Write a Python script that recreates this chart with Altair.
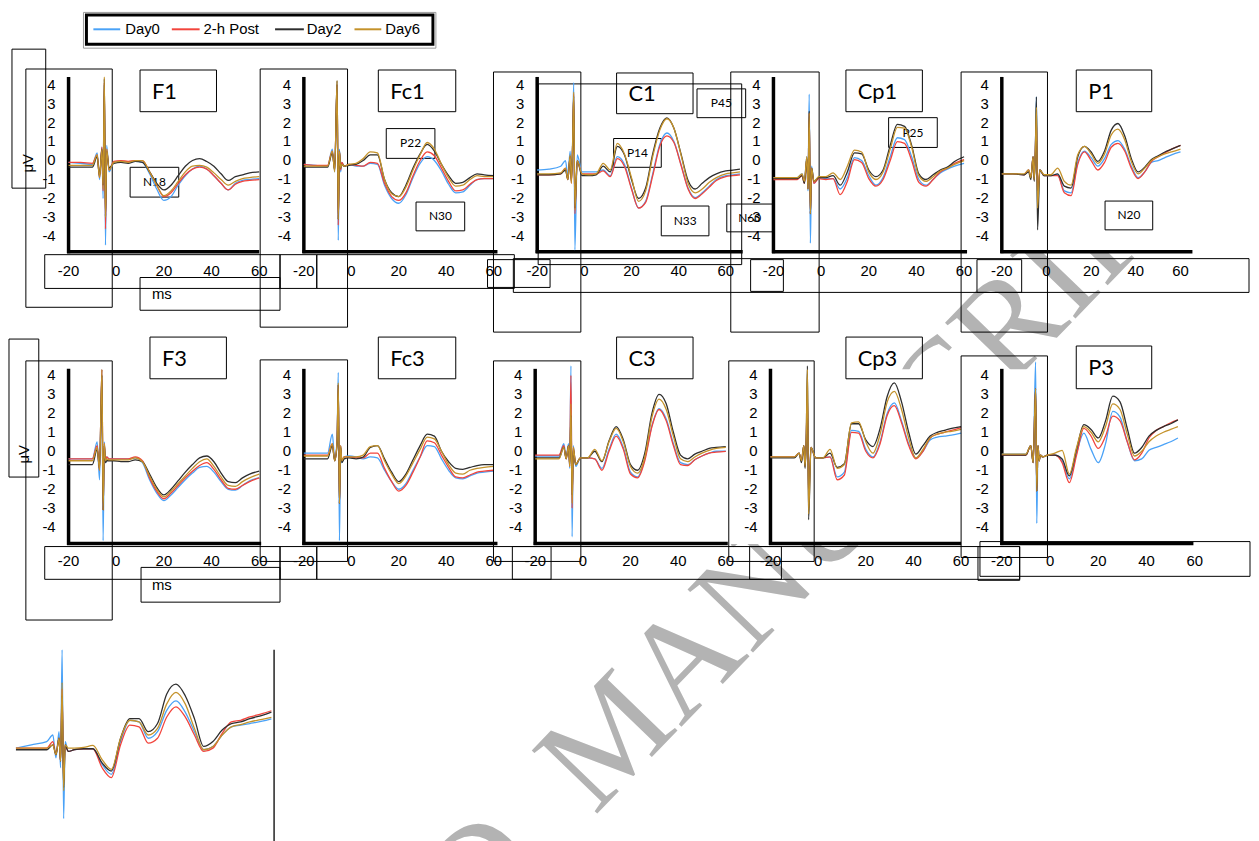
import altair as alt
import pandas as pd

# ---------------- data ----------------
T = [-20, -15, -10, -8, -7, -6, -5.5, -5, -4.5, -4, -3, -1, 2, 5, 8, 11, 14, 17, 20, 23,
     26, 29, 32, 35, 38, 41, 44, 47, 50, 53, 56, 60, 63, 66]
SERIES = ["Day0", "2-h Post", "Day2", "Day6"]
COLORS = ["#4aa2f7", "#f2443c", "#2e2e2e", "#c4922a"]
Y_TICKS = [-4, -3, -2, -1, 0, 1, 2, 3, 4]
X_TICKS = [-20, 0, 20, 40, 60]
Y_LABEL = "μV"
X_LABEL = "ms"
WATERMARK = "D\u00a0 MANUSCRIP"

F1_DAY0 = [-0.1, -0.15, -0.2, 0.4, -1.0, 0.7, -2.0, 4.0, -4.45, 0.8, -0.6, -0.1, -0.05, -0.1, -0.05, -0.1, -0.7, -1.5, -2.1, -1.9, -1.3, -0.8, -0.45, -0.3, -0.45, -0.8, -1.2, -1.55, -1.2, -1.05, -1.0, -0.95]
F1_POST = [-0.1, -0.1, -0.15, 0.3, -0.9, 0.7, -1.6, 4.1, -3.6, 0.6, -0.5, -0.05, 0.0, -0.05, 0.0, 0.0, -0.6, -1.3, -1.9, -1.7, -1.2, -0.75, -0.45, -0.35, -0.45, -0.8, -1.2, -1.55, -1.25, -1.1, -1.05, -1.0]
F1_DAY2 = [-0.35, -0.35, -0.35, 0.2, -0.8, 0.6, -1.3, 4.3, -2.9, 0.5, -0.4, -0.15, -0.1, -0.15, -0.05, -0.1, -0.6, -1.2, -1.55, -1.3, -0.8, -0.3, 0.0, 0.1, -0.05, -0.3, -0.7, -1.05, -0.85, -0.75, -0.65, -0.6]
F1_DAY6 = [-0.25, -0.25, -0.25, 0.3, -0.9, 0.6, -1.5, 4.4, -3.0, 0.6, -0.5, -0.1, -0.05, -0.1, 0.0, 0.0, -0.6, -1.3, -1.85, -1.6, -1.1, -0.6, -0.3, -0.25, -0.35, -0.65, -1.0, -1.3, -1.1, -0.95, -0.9, -0.85]

FC1_DAY0 = [-0.2, -0.25, -0.3, 0.6, -0.6, 4.0, -4.2, 0.6, -0.6, -0.1, -0.3, -0.2, -0.3, -0.3, -0.15, -0.2, -1.3, -2.0, -2.25, -1.8, -0.9, -0.15, 0.2, 0.0, -0.55, -1.25, -1.7, -1.65, -1.3, -1.0, -0.95, -0.95]
FC1_POST = [-0.2, -0.25, -0.25, 0.5, -0.5, 4.0, -3.4, 0.5, -0.5, -0.1, -0.3, -0.2, -0.25, -0.3, -0.1, -0.15, -1.2, -1.9, -2.1, -1.7, -0.8, 0.0, 0.45, 0.25, -0.4, -1.1, -1.6, -1.55, -1.25, -1.0, -0.95, -0.95]
FC1_DAY2 = [-0.35, -0.35, -0.35, 0.4, -0.5, 4.2, -3.1, 0.5, -0.4, -0.2, -0.3, -0.25, -0.2, 0.0, 0.3, 0.3, -1.0, -1.7, -1.9, -1.3, -0.4, 0.35, 0.85, 0.5, -0.2, -0.8, -1.2, -1.15, -0.9, -0.7, -0.75, -0.8]
FC1_DAY6 = [-0.3, -0.3, -0.3, 0.5, -0.6, 4.2, -3.1, 0.5, -0.4, -0.2, -0.3, -0.2, -0.15, 0.1, 0.45, 0.4, -1.0, -1.75, -1.9, -1.4, -0.5, 0.3, 0.95, 0.6, -0.2, -0.9, -1.35, -1.3, -1.0, -0.8, -0.85, -0.85]

C1_DAY0 = [-0.5, -0.45, -0.3, 0.0, -0.8, 0.5, -1.0, 0.8, 4.1, -4.7, 0.3, -0.6, -0.6, -0.6, -0.5, -0.8, 0.2, -0.2, -1.45, -2.5, -2.15, -0.7, 0.85, 1.45, 1.0, -0.2, -1.45, -1.95, -1.7, -1.35, -1.0, -0.8, -0.75, -0.7]
C1_POST = [-0.75, -0.75, -0.7, -0.4, -1.0, 0.2, -1.2, 0.6, 3.5, -2.8, 0.0, -0.7, -0.7, -0.7, -0.55, -0.85, 0.1, -0.3, -1.5, -2.5, -2.2, -0.8, 0.75, 1.3, 0.95, -0.25, -1.5, -2.0, -1.75, -1.4, -1.05, -0.85, -0.8, -0.75]
C1_DAY2 = [-0.75, -0.75, -0.7, -0.5, -1.0, 0.2, -1.1, 0.6, 3.4, -2.5, 0.0, -0.8, -0.8, -0.75, -0.3, -0.6, 0.75, 0.3, -1.0, -2.0, -1.45, 0.35, 1.7, 2.25, 1.7, 0.35, -1.05, -1.5, -1.2, -0.9, -0.7, -0.55, -0.5, -0.45]
C1_DAY6 = [-0.7, -0.7, -0.65, -0.4, -1.0, 0.3, -1.2, 0.7, 3.6, -2.6, 0.0, -0.7, -0.75, -0.7, -0.15, -0.5, 0.9, 0.35, -0.9, -2.15, -1.6, 0.2, 1.6, 2.2, 1.7, 0.3, -1.2, -1.7, -1.5, -1.15, -0.9, -0.7, -0.65, -0.6]

CP1_DAY0 = [-0.9, -0.9, -0.9, -0.7, -1.1, 0.2, -1.6, 3.5, -4.35, -0.3, -1.2, -0.9, -0.95, -0.95, -1.5, -0.9, 0.15, 0.0, -0.8, -1.3, -0.9, 0.2, 1.2, 1.1, 0.2, -1.0, -1.3, -1.0, -0.65, -0.45, -0.3, -0.15]
CP1_POST = [-1.0, -1.0, -1.0, -0.8, -1.2, 0.1, -1.5, 2.5, -2.8, -0.4, -1.2, -0.95, -1.0, -0.95, -1.8, -1.1, 0.05, -0.1, -0.95, -1.35, -1.0, 0.0, 1.0, 0.9, 0.0, -1.15, -1.35, -1.0, -0.6, -0.4, -0.15, 0.05]
CP1_DAY2 = [-0.95, -0.95, -0.95, -0.8, -1.2, 0.1, -1.5, 2.6, -2.8, -0.4, -1.1, -0.9, -0.9, -0.8, -1.3, -0.6, 0.4, 0.35, -0.5, -0.85, -0.5, 0.8, 1.9, 1.8, 0.8, -0.7, -1.0, -0.75, -0.5, -0.35, -0.05, 0.2]
CP1_DAY6 = [-0.9, -0.9, -0.9, -0.7, -1.1, 0.2, -1.5, 2.5, -2.8, -0.4, -1.1, -0.85, -0.85, -0.65, -1.0, -0.3, 0.55, 0.45, -0.6, -1.0, -0.6, 0.6, 1.75, 1.7, 0.7, -0.8, -1.1, -0.85, -0.55, -0.4, -0.2, 0.0]

P1_DAY0 = [-0.7, -0.7, -0.75, -0.5, -0.9, 0.2, -1.0, 0.5, 3.35, -2.8, -0.5, -0.8, -0.8, -0.75, -1.6, -1.7, -0.1, 0.5, 0.15, -0.3, 0.1, 0.85, 1.05, 0.6, -0.3, -0.9, -0.6, -0.1, 0.0, 0.15, 0.3, 0.45]
P1_POST = [-0.7, -0.7, -0.75, -0.5, -0.9, 0.2, -1.0, 0.5, 2.2, -1.9, -0.5, -0.8, -0.8, -0.8, -1.7, -1.85, -0.2, 0.45, 0.0, -0.5, -0.1, 0.7, 0.9, 0.5, -0.4, -0.95, -0.6, -0.05, 0.2, 0.4, 0.6, 0.8]
P1_DAY2 = [-0.7, -0.7, -0.75, -0.6, -1.0, 0.2, -1.1, 0.4, 3.35, -3.65, -0.5, -0.8, -0.8, -0.7, -1.35, -1.45, 0.2, 0.75, 0.45, -0.05, 0.5, 1.6, 1.95, 1.3, 0.1, -0.6, -0.35, 0.05, 0.25, 0.45, 0.6, 0.8]
P1_DAY6 = [-0.7, -0.7, -0.7, -0.5, -0.9, 0.2, -1.0, 0.5, 2.8, -2.5, -0.5, -0.75, -0.75, -0.4, -1.1, -1.3, 0.3, 0.75, 0.35, -0.15, 0.35, 1.35, 1.65, 1.1, -0.05, -0.7, -0.4, 0.0, 0.2, 0.35, 0.45, 0.6]

F3_DAY0 = [-0.4, -0.4, -0.4, 0.5, -1.5, 4.3, -4.7, 0.5, -0.6, -0.3, -0.4, -0.4, -0.4, -0.4, -0.35, -0.6, -1.5, -2.2, -2.6, -2.3, -1.9, -1.5, -1.15, -0.85, -0.8, -1.1, -1.6, -2.0, -2.05, -1.8, -1.55, -1.4]
F3_POST = [-0.4, -0.4, -0.4, 0.3, -1.0, 4.3, -3.1, 0.4, -0.5, -0.3, -0.4, -0.4, -0.4, -0.4, -0.3, -0.5, -1.4, -2.1, -2.5, -2.2, -1.8, -1.4, -1.05, -0.75, -0.6, -0.95, -1.5, -1.95, -2.0, -1.8, -1.6, -1.4]
F3_DAY2 = [-0.7, -0.7, -0.7, 0.1, -0.9, 4.0, -3.1, 0.3, -0.6, -0.5, -0.5, -0.5, -0.55, -0.55, -0.45, -0.55, -1.2, -1.9, -2.3, -2.0, -1.55, -1.1, -0.7, -0.35, -0.25, -0.55, -1.15, -1.6, -1.65, -1.4, -1.2, -1.05]
F3_DAY6 = [-0.5, -0.5, -0.5, 0.2, -1.0, 4.3, -3.1, 0.4, -0.5, -0.4, -0.45, -0.45, -0.45, -0.45, -0.35, -0.55, -1.3, -2.0, -2.4, -2.1, -1.7, -1.3, -0.9, -0.55, -0.4, -0.8, -1.35, -1.8, -1.85, -1.6, -1.4, -1.2]

FC3_DAY0 = [-0.1, -0.1, -0.1, 0.9, -0.4, 0.6, 4.15, -4.7, 0.3, -0.6, -0.3, -0.25, -0.3, -0.4, -0.3, -0.35, -1.0, -1.6, -2.0, -1.7, -1.0, -0.3, 0.3, 0.25, -0.4, -1.0, -1.4, -1.45, -1.3, -1.15, -1.1, -1.05]
FC3_POST = [-0.2, -0.2, -0.2, 0.4, -0.5, 0.5, 3.5, -2.75, 0.3, -0.5, -0.3, -0.3, -0.35, -0.35, -0.1, -0.1, -0.9, -1.6, -2.1, -1.8, -1.1, -0.3, 0.55, 0.45, -0.2, -0.85, -1.35, -1.4, -1.25, -1.1, -1.05, -1.0]
FC3_DAY2 = [-0.4, -0.4, -0.4, 0.3, -0.5, 0.4, 3.5, -2.75, 0.2, -0.6, -0.4, -0.35, -0.4, -0.3, 0.2, 0.3, -0.4, -1.1, -1.6, -1.2, -0.45, 0.3, 0.9, 0.8, 0.0, -0.55, -0.9, -0.95, -0.85, -0.75, -0.7, -0.7]
FC3_DAY6 = [-0.25, -0.25, -0.25, 0.4, -0.5, 0.5, 3.6, -2.75, 0.3, -0.5, -0.3, -0.3, -0.3, -0.2, 0.25, 0.3, -0.5, -1.2, -1.7, -1.3, -0.6, 0.1, 0.75, 0.65, 0.0, -0.7, -1.15, -1.2, -1.0, -0.9, -0.85, -0.8]

C3_DAY0 = [-0.25, -0.25, -0.25, 0.4, -0.3, 0.4, -0.9, 4.5, -4.5, 0.3, -0.8, -0.35, -0.35, -0.4, -0.9, 0.1, 0.9, 0.2, -1.1, -1.35, -0.4, 1.35, 2.25, 1.7, 0.4, -0.6, -0.7, -0.45, -0.25, -0.1, 0.0, 0.0]
C3_POST = [-0.2, -0.2, -0.2, 0.3, -0.4, 0.3, -0.8, 4.0, -3.0, 0.2, -0.7, -0.35, -0.35, -0.4, -1.0, 0.0, 0.8, 0.1, -1.2, -1.4, -0.5, 1.3, 2.2, 1.6, 0.3, -0.7, -0.75, -0.45, -0.25, -0.1, -0.05, 0.0]
C3_DAY2 = [-0.35, -0.35, -0.35, 0.2, -0.4, 0.3, -0.7, 1.9, -2.3, 0.1, -0.7, -0.35, -0.35, 0.0, -0.55, 0.55, 1.3, 0.6, -0.7, -1.0, -0.1, 2.0, 3.0, 2.5, 1.0, -0.2, -0.4, -0.15, 0.0, 0.15, 0.2, 0.25]
C3_DAY6 = [-0.4, -0.4, -0.4, 0.2, -0.4, 0.3, -0.8, 2.5, -2.75, 0.2, -0.7, -0.35, -0.35, 0.1, -0.5, 0.5, 1.2, 0.5, -0.8, -1.15, -0.3, 1.8, 2.75, 2.2, 0.8, -0.4, -0.55, -0.3, -0.1, 0.05, 0.15, 0.2]

CP3_DAY0 = [-0.3, -0.3, -0.3, -0.1, -0.5, 0.3, -0.8, 0.6, 2.5, -2.2, 0.2, -0.35, -0.35, -0.3, -1.35, -1.1, 1.1, 1.05, 0.1, -0.3, 0.5, 2.0, 2.55, 1.6, 0.4, -0.35, 0.0, 0.6, 0.75, 0.8, 0.85, 0.95]
CP3_POST = [-0.3, -0.3, -0.3, -0.1, -0.5, 0.3, -0.8, 0.6, 3.0, -2.5, 0.2, -0.35, -0.35, -0.3, -1.5, -1.25, 1.0, 0.95, 0.0, -0.35, 0.4, 1.9, 2.4, 1.5, 0.3, -0.4, 0.0, 0.7, 0.9, 1.0, 1.1, 1.25]
CP3_DAY2 = [-0.35, -0.35, -0.35, -0.1, -0.6, 0.3, -0.9, 0.6, 4.5, -3.6, 0.2, -0.35, -0.35, -0.1, -0.85, -0.65, 1.45, 1.45, 0.6, 0.25, 1.2, 2.9, 3.6, 2.6, 1.0, -0.15, 0.3, 0.8, 1.0, 1.1, 1.2, 1.3]
CP3_DAY6 = [-0.3, -0.3, -0.3, -0.1, -0.5, 0.3, -0.8, 0.6, 4.3, -3.3, 0.2, -0.35, -0.35, 0.1, -0.9, -0.7, 1.5, 1.55, 0.5, -0.1, 0.9, 2.6, 3.15, 2.2, 0.7, -0.35, 0.1, 0.7, 0.9, 1.0, 1.05, 1.15]

P3_DAY0 = [-0.15, -0.15, -0.15, 0.3, -0.6, 4.7, -3.8, 0.3, -0.5, -0.2, -0.3, -0.2, -0.2, -0.5, -1.45, -0.1, 0.95, 0.1, -0.6, 0.4, 2.1, 1.8, 0.5, -0.5, -0.4, 0.05, 0.2, 0.35, 0.5, 0.7]
P3_POST = [-0.2, -0.2, -0.2, 0.3, -0.6, 3.3, -2.1, 0.3, -0.5, -0.2, -0.3, -0.2, -0.2, -0.6, -1.65, -0.2, 1.2, 0.8, 0.15, 0.8, 1.85, 1.6, 0.5, -0.45, -0.1, 0.7, 1.1, 1.3, 1.5, 1.65]
P3_DAY2 = [-0.2, -0.2, -0.2, 0.3, -0.6, 3.3, -2.1, 0.3, -0.5, -0.2, -0.3, -0.2, -0.2, -0.4, -1.3, 0.1, 1.4, 1.15, 0.7, 1.6, 2.9, 2.6, 1.2, -0.1, 0.2, 0.8, 1.1, 1.3, 1.45, 1.65]
P3_DAY6 = [-0.15, -0.15, -0.15, 0.3, -0.6, 3.3, -2.1, 0.3, -0.5, -0.2, -0.3, -0.2, -0.1, 0.05, -1.2, 0.2, 1.3, 1.0, 0.5, 1.3, 2.5, 2.2, 0.9, -0.25, 0.0, 0.5, 0.8, 1.0, 1.15, 1.3]

EXTRA_DAY0 = [0.0, 0.1, 0.2, 0.4, -0.3, 0.5, -0.6, 3.0, -2.15, 0.2, -0.1, -0.05, -0.02, -0.02, -0.5, -0.8, 0.2, 0.85, 0.8, 0.3, 0.5, 1.15, 1.44, 1.1, 0.5, -0.05, 0.05, 0.4, 0.65, 0.7, 0.75, 0.82, 0.89]
EXTRA_POST = [0.0, 0.0, 0.0, 0.2, -0.2, 0.3, -0.4, 1.8, -1.0, 0.1, -0.1, -0.05, -0.02, -0.02, -0.6, -0.9, 0.1, 0.7, 0.65, 0.15, 0.3, 0.95, 1.26, 0.95, 0.4, -0.1, 0.0, 0.45, 0.8, 0.85, 0.95, 1.05, 1.14]
EXTRA_DAY2 = [-0.05, -0.05, -0.05, 0.1, -0.2, 0.3, -0.4, 1.6, -1.2, 0.1, -0.1, -0.05, -0.02, -0.02, -0.45, -0.7, 0.3, 0.9, 0.9, 0.5, 0.75, 1.65, 1.95, 1.6, 0.9, 0.05, 0.2, 0.55, 0.75, 0.8, 0.9, 1.0, 1.1]
EXTRA_DAY6 = [0.0, 0.0, 0.0, 0.1, -0.2, 0.3, -0.4, 2.0, -1.3, 0.1, 0.0, 0.0, 0.02, 0.08, -0.35, -0.65, 0.3, 0.85, 0.8, 0.4, 0.6, 1.35, 1.7, 1.35, 0.6, -0.05, 0.05, 0.4, 0.65, 0.72, 0.8, 0.88, 0.94]

WAVES = {
    "F1": [F1_DAY0, F1_POST, F1_DAY2, F1_DAY6],
    "Fc1": [FC1_DAY0, FC1_POST, FC1_DAY2, FC1_DAY6],
    "C1": [C1_DAY0, C1_POST, C1_DAY2, C1_DAY6],
    "Cp1": [CP1_DAY0, CP1_POST, CP1_DAY2, CP1_DAY6],
    "P1": [P1_DAY0, P1_POST, P1_DAY2, P1_DAY6],
    "F3": [F3_DAY0, F3_POST, F3_DAY2, F3_DAY6],
    "Fc3": [FC3_DAY0, FC3_POST, FC3_DAY2, FC3_DAY6],
    "C3": [C3_DAY0, C3_POST, C3_DAY2, C3_DAY6],
    "Cp3": [CP3_DAY0, CP3_POST, CP3_DAY2, CP3_DAY6],
    "P3": [P3_DAY0, P3_POST, P3_DAY2, P3_DAY6],
}
EXTRA_WAVES = [EXTRA_DAY0, EXTRA_POST, EXTRA_DAY2, EXTRA_DAY6]

# ---------------- layout / style (page pixels) ----------------
R1, R2, R3 = 73, 367, 661
H12, H3 = 176, 180
ROW_GAP = 118
SANS = "Liberation Sans"
CAL = "Lato"

LAYOUT = {
    "F1": dict(left=68, top=R1, w=237, xmax=78.75, ydom=[-4.8, 4.4], end=260, lab_y=268,
               title=(140, 66, 217, 108), ybox=(25, 65, 112, 305),
               boxes=[(44, 252, 281, 286), (140, 275, 281, 308), (11, 45, 45, 185)],
               peaks=[("N18", (130, 164, 179, 194))]),
    "Fc1": dict(left=305, top=R1, w=235, xmax=78.33, ydom=[-4.8, 4.4], end=500, lab_y=268,
                title=(380, 66, 458, 108), ybox=(261, 65, 349, 325),
                boxes=[(281, 252, 318, 286), (318, 252, 517, 286)],
                peaks=[("P22", (388, 125, 437, 155)), ("N30", (418, 199, 467, 228))]),
    "C1": dict(left=540, top=R1, w=238, xmax=80.21, ydom=[-4.8, 4.4], end=747, lab_y=268,
               title=(620, 69, 697, 110), ybox=(496, 68, 584, 330),
               boxes=[(541, 80, 746, 262), (490, 257, 553, 285), (516, 256, 1257, 290)],
               peaks=[("P14", (617, 135, 665, 164)), ("P45", (701, 85, 750, 114)),
                      ("N33", (665, 203, 713, 233)), ("N60", (731, 201, 777, 229))]),
    "Cp1": dict(left=778, top=R1, w=230, xmax=75.83, ydom=[-4.8, 4.4], end=973, lab_y=268,
                title=(851, 66, 928, 108), ybox=(735, 68, 824, 330),
                boxes=[(755, 257, 788, 289)],
                peaks=[("P25", (894, 114, 943, 144))]),
    "P1": dict(left=1008, top=R1, w=243, xmax=88.0, ydom=[-4.8, 4.4], end=1200, lab_y=268,
               title=(1083, 66, 1159, 108), ybox=(967, 68, 1054, 330),
               boxes=[(983, 257, 1028, 290)],
               peaks=[("N20", (1112, 198, 1160, 227))]),
    "F3": dict(left=68, top=R2, w=237, xmax=78.75, ydom=[-4.86, 4.34], end=262, lab_y=561,
               title=(150, 335, 227, 377), ybox=(25, 359, 112, 620),
               boxes=[(44, 546, 281, 579), (141, 567, 281, 602), (8, 337, 38, 476)], peaks=[]),
    "Fc3": dict(left=305, top=R2, w=233, xmax=77.49, ydom=[-4.86, 4.34], end=500, lab_y=561,
                title=(380, 335, 458, 377), ybox=(261, 358, 349, 561),
                boxes=[(281, 546, 318, 579), (318, 546, 1026, 579)], peaks=[]),
    "C3": dict(left=538, top=R2, w=237, xmax=78.75, ydom=[-4.86, 4.34], end=732, lab_y=561,
               title=(620, 335, 697, 377), ybox=(496, 359, 584, 561),
               boxes=[(515, 546, 554, 579)], peaks=[]),
    "Cp3": dict(left=775, top=R2, w=233, xmax=77.08, ydom=[-4.86, 4.34], end=967, lab_y=561,
                title=(851, 335, 928, 377), ybox=(733, 359, 819, 561),
                boxes=[(754, 546, 786, 579)], peaks=[]),
    "P3": dict(left=1008, top=R2, w=243, xmax=80.0, ydom=[-4.86, 4.34], end=1201, lab_y=561,
               title=(1083, 344, 1159, 387), ybox=(967, 354, 1054, 557),
               boxes=[(984, 546, 1026, 580), (986, 541, 1258, 576)], peaks=[]),
}

# legend drawn as a boxed key above the first panel (page pixels)
LEGEND_OUTER = (83, 8, 438, 44)
LEGEND_BOX = (86, 10.5, 435, 40)
LEGEND_KEYS = [(93, 120, 125), (172, 200, 204), (276, 305, 308), (356, 383, 387)]
LEGEND_Y = 25

ONE = pd.DataFrame({"k": [0]})
COLOR = alt.Color("series:N", scale=alt.Scale(domain=SERIES, range=COLORS), legend=None)


def rect(b, ox, oy, color="black", sw=1.0):
    x0, y0, x1, y1 = b
    return alt.Chart(ONE).mark_rect(fill="transparent", stroke=color, strokeWidth=sw).encode(
        x=alt.value(x0 - ox), x2=alt.value(x1 - ox), y=alt.value(y0 - oy), y2=alt.value(y1 - oy))


def label(s, px, py, ox, oy, size, font=SANS, align="center", angle=0, color="black",
          baseline="middle"):
    kw = dict(text=s, fontSize=size, font=font, align=align, baseline=baseline, color=color)
    if angle:
        kw["angle"] = angle
    return alt.Chart(ONE).mark_text(**kw).encode(x=alt.value(px - ox), y=alt.value(py - oy))


def wave_frame(waves):
    rows = []
    for s, vals in zip(SERIES, waves):
        for t, v in zip(T, vals):
            rows.append({"ms": t, "uv": v, "series": s})
    return pd.DataFrame(rows)


def legend_layers(ox, oy):
    out = [rect(LEGEND_OUTER, ox, oy, color="#9a9a9a", sw=1),
           rect(LEGEND_BOX, ox, oy, color="black", sw=3)]
    for s, c, (a, b, tx) in zip(SERIES, COLORS, LEGEND_KEYS):
        out.append(alt.Chart(ONE).mark_rule(color=c, strokeWidth=2).encode(
            x=alt.value(a - ox), x2=alt.value(b - ox), y=alt.value(LEGEND_Y - oy)))
        out.append(label(s, tx, LEGEND_Y, ox, oy, 15, align="left"))
    return out


def panel(name):
    L = LAYOUT[name]
    ox, oy = L["left"], L["top"]
    xs = alt.Scale(domain=[-20, L["xmax"]], nice=False, zero=False)
    ys = alt.Scale(domain=L["ydom"], nice=False, zero=False)
    layers = []
    if name == "F1":
        layers.append(label(WATERMARK, 479, 941, ox, oy, 140, font="Liberation Serif",
                            align="left", angle=314, color="#b3b3b3", baseline="alphabetic"))
        layers += legend_layers(ox, oy)
    layers.append(rect(L["ybox"], ox, oy))
    for b in L["boxes"]:
        layers.append(rect(b, ox, oy))
    tb = L["title"]
    layers.append(rect(tb, ox, oy))
    layers.append(label(name, tb[0] + 12, (tb[1] + tb[3]) / 2 + 1, ox, oy, 22, font=CAL, align="left"))
    for txt, b in L["peaks"]:
        layers.append(rect(b, ox, oy))
        layers.append(label(txt, (b[0] + b[2]) / 2, (b[1] + b[3]) / 2, ox, oy, 12, font=CAL))
    if name == "F1":
        layers.append(label(X_LABEL, 152, 292, ox, oy, 15, align="left"))
        layers.append(label(Y_LABEL, 27, 160, ox, oy, 15, angle=270))
    if name == "F3":
        layers.append(label(X_LABEL, 152, 585, ox, oy, 15, align="left"))
        layers.append(label(Y_LABEL, 23, 453, ox, oy, 15, angle=270))
    yt = pd.DataFrame({"v": Y_TICKS, "lab": [str(v) for v in Y_TICKS]})
    layers.append(alt.Chart(yt).mark_text(align="right", baseline="middle", font=SANS, fontSize=15,
                                          color="black").encode(
        x=alt.value(-13), y=alt.Y("v:Q", scale=ys, axis=None), text="lab:N"))
    xt = pd.DataFrame({"v": X_TICKS, "lab": [str(v) for v in X_TICKS]})
    layers.append(alt.Chart(xt).mark_text(align="center", baseline="middle", font=SANS, fontSize=15,
                                          color="black").encode(
        x=alt.X("v:Q", scale=xs, axis=None), y=alt.value(L["lab_y"] - oy), text="lab:N"))
    layers.append(alt.Chart(ONE).mark_rule(color="black", strokeWidth=3.5).encode(
        x=alt.value(0), y=alt.value(0), y2=alt.value(H12 + 1.5)))
    layers.append(alt.Chart(ONE).mark_rule(color="black", strokeWidth=3.5).encode(
        x=alt.value(-1.5), x2=alt.value(L["end"] - ox), y=alt.value(H12)))
    layers.append(alt.Chart(wave_frame(WAVES[name])).mark_line(
        strokeWidth=1.3, interpolate="monotone").encode(
        x=alt.X("ms:Q", scale=xs, axis=None),
        y=alt.Y("uv:Q", scale=ys, axis=None),
        color=COLOR))
    return alt.layer(*layers).properties(width=L["w"], height=H12)


def extra_panel():
    xs = alt.Scale(domain=[-2.9, 63.87], nice=False, zero=False)
    ys = alt.Scale(domain=[-2.788, 2.667], nice=False, zero=False)
    edge = alt.Chart(ONE).mark_rule(color="black", strokeWidth=1.3).encode(
        x=alt.value(207), y=alt.value(-11), y2=alt.value(H3 + 6))
    lines = alt.Chart(wave_frame(EXTRA_WAVES)).mark_line(
        strokeWidth=1.3, interpolate="monotone").encode(
        x=alt.X("ms:Q", scale=xs, axis=None),
        y=alt.Y("uv:Q", scale=ys, axis=None),
        color=COLOR)
    return alt.layer(edge, lines).properties(width=207, height=H3)


row1 = alt.hconcat(*[panel(n) for n in ["F1", "Fc1", "C1", "Cp1", "P1"]],
                   spacing=0, bounds="flush").resolve_scale(x="independent", y="independent")
row2 = alt.hconcat(*[panel(n) for n in ["F3", "Fc3", "C3", "Cp3", "P3"]],
                   spacing=0, bounds="flush").resolve_scale(x="independent", y="independent")

# nested rows report no height under flush bounds, so the gap carries the row height too
chart = alt.vconcat(row1, row2, extra_panel(), spacing=H12 + ROW_GAP, bounds="flush").resolve_scale(
    x="independent", y="independent"
).properties(padding=0, background="white").configure_view(
    fill="white", stroke="transparent"
)

chart.save("out.html", embed_options={"renderer": "svg", "actions": False})
